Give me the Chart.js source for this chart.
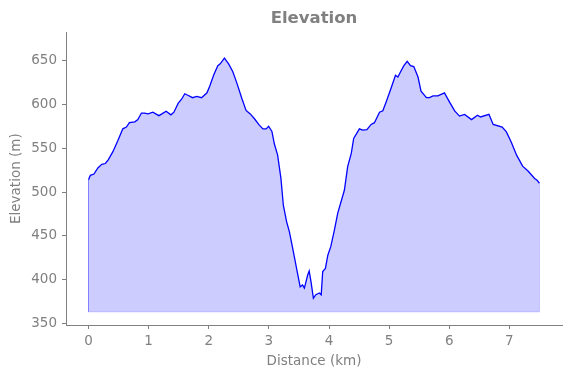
<!DOCTYPE html>
<html>
<head>
<meta charset="utf-8">
<script src="https://cdn.jsdelivr.net/npm/chart.js@4"></script>
<style>
  html, body { margin: 0; padding: 0; background: #fff; }
  #wrap { width: 571px; height: 378px; }
</style>
</head>
<body>
<div id="wrap"><canvas id="elevationChart" width="571" height="378"></canvas></div>
<script>
// Profile
const distanceKm = [
  0.00, 0.03, 0.09, 0.155, 0.22, 0.28, 0.33, 0.405, 0.49, 0.57, 0.63, 0.68, 0.77, 0.82,
  0.88, 0.93, 0.99, 1.07, 1.17, 1.22, 1.29, 1.37, 1.42, 1.49, 1.55, 1.60, 1.66, 1.73,
  1.80, 1.88, 1.97, 2.02, 2.08, 2.15, 2.19, 2.26, 2.33, 2.40, 2.47, 2.55, 2.62, 2.69,
  2.76, 2.83, 2.90, 2.955, 2.995, 3.05, 3.09, 3.145, 3.20, 3.24, 3.295, 3.34, 3.395,
  3.46, 3.52, 3.56, 3.59, 3.645, 3.67, 3.70, 3.74, 3.78, 3.84, 3.87, 3.895, 3.94, 3.98,
  4.03, 4.09, 4.145, 4.255, 4.31, 4.37, 4.41, 4.505, 4.56, 4.63, 4.70, 4.755, 4.84,
  4.895, 4.95, 5.03, 5.105, 5.145, 5.19, 5.245, 5.30, 5.355, 5.41, 5.48, 5.53, 5.62,
  5.67, 5.73, 5.81, 5.92, 6.005, 6.09, 6.17, 6.255, 6.37, 6.47, 6.52, 6.66, 6.73, 6.88,
  6.95, 7.03, 7.12, 7.22, 7.31, 7.42, 7.46, 7.50
];
const elevationM = [
  514, 519, 520.5, 527.5, 531.5, 532.5, 537, 546, 559, 572, 574, 579, 580, 582.5,
  590, 590, 589, 591, 587, 589, 592, 588, 591, 601, 606, 612, 610, 607.5,
  609, 607.5, 613, 621.5, 633, 644, 646, 652.5, 646, 637, 623.5, 606.5, 593, 589,
  583.5, 577, 572, 572, 575, 569, 555, 542, 515.5, 485, 466, 455, 436,
  413, 392, 394, 390.5, 405.5, 410, 398, 379, 383, 385, 383, 409.5, 413, 428,
  438, 457, 476, 502, 529, 544, 561, 572, 570.5, 571, 577, 579, 591,
  592.5, 602.5, 618, 633, 631, 637, 644, 649, 644, 643, 631, 615, 607.5,
  607.5, 609.5, 609.5, 613, 602.5, 592.5, 586.5, 588.5, 582.5, 587.5, 585.5, 588.5, 577, 574,
  568.5, 557, 542, 529.5, 524, 515.5, 513.5, 510
];
const fillBase = 363.5;
const xTicks = [0, 1, 2, 3, 4, 5, 6, 7];
const yTicks = [350, 400, 450, 500, 550, 600, 650];

const grey = '#808080';
const profile = distanceKm.map((d, i) => ({ x: d, y: elevationM[i] }));
const last = distanceKm.length - 1;
const outline = [
  { x: distanceKm[0], y: elevationM[0] },
  { x: distanceKm[0], y: fillBase },
  { x: distanceKm[last], y: fillBase },
  { x: distanceKm[last], y: elevationM[last] }
];

const ctx = document.getElementById('elevationChart').getContext('2d');
new Chart(ctx, {
  type: 'line',
  data: {
    datasets: [
      {
        label: 'Elevation',
        data: profile,
        borderColor: '#0000ff',
        borderWidth: 1.3,
        pointRadius: 0,
        fill: { value: fillBase },
        backgroundColor: 'rgba(0, 0, 255, 0.2)',
        order: 1
      },
      {
        label: 'edge',
        data: outline,
        borderColor: 'rgba(0, 0, 255, 0.2)',
        borderWidth: 1,
        pointRadius: 0,
        fill: false,
        order: 2
      }
    ]
  },
  options: {
    responsive: false,
    animation: false,
    layout: { padding: { left: 0, right: 9, top: 0, bottom: 0 } },
    plugins: {
      legend: { display: false },
      tooltip: { enabled: false },
      title: {
        display: true,
        text: 'Elevation',
        color: grey,
        fullSize: false,
        font: { family: 'DejaVu Sans', size: 16.5, weight: 'bold', lineHeight: 1.2 },
        padding: { top: 9, bottom: 3.5 }
      }
    },
    scales: {
      x: {
        type: 'linear',
        min: -0.375,
        max: 7.875,
        afterFit: (scale) => { scale.height = 53; },
        afterBuildTicks: (scale) => { scale.ticks = xTicks.map(v => ({ value: v })); },
        border: { display: true, color: grey, width: 1 },
        grid: { display: true, drawOnChartArea: false, drawTicks: true, tickLength: 4, color: grey },
        ticks: { color: grey, padding: 4, font: { family: 'DejaVu Sans', size: 13.5 } },
        title: {
          display: true,
          text: 'Distance (km)',
          color: grey,
          font: { family: 'DejaVu Sans', size: 13.5 },
          padding: { top: 0, bottom: 8.5 }
        }
      },
      y: {
        type: 'linear',
        min: 348.5,
        max: 682,
        afterFit: (scale) => { scale.width = 66; },
        afterBuildTicks: (scale) => { scale.ticks = yTicks.map(v => ({ value: v })); },
        border: { display: true, color: grey, width: 1 },
        grid: { display: true, drawOnChartArea: false, drawTicks: true, tickLength: 4, color: grey },
        ticks: { color: grey, padding: 5, font: { family: 'DejaVu Sans', size: 13.5 } },
        title: {
          display: true,
          text: 'Elevation (m)',
          color: grey,
          font: { family: 'DejaVu Sans', size: 13.5 },
          padding: { top: 8.5, bottom: 0 }
        }
      }
    }
  }
});
</script>
</body>
</html>
